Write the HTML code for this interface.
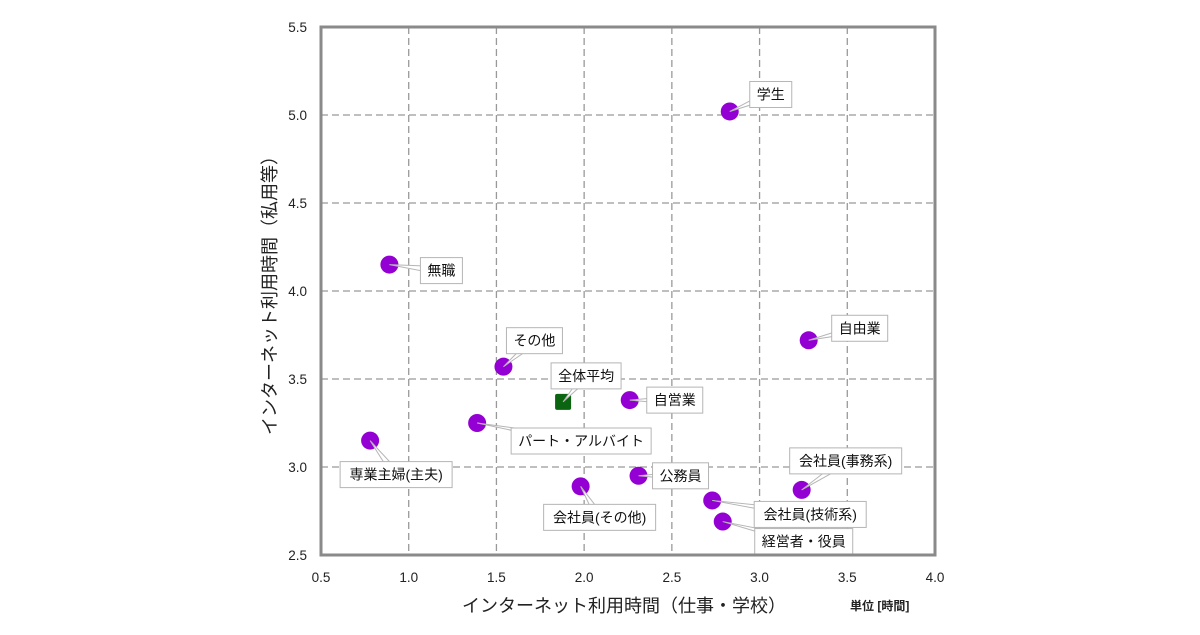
<!DOCTYPE html>
<html><head><meta charset="utf-8">
<style>
body{margin:0;background:#fff;}
svg text{font-family:"Liberation Sans","Noto Sans CJK JP",sans-serif;}
</style></head>
<body>
<svg id="chart" width="1200" height="630" viewBox="0 0 1200 630" xmlns="http://www.w3.org/2000/svg">
<g id="grid"></g>
<g id="marks"></g>
<g id="axes"></g>
<text x="624" y="612" font-size="18" text-anchor="middle" fill="#222">インターネット利用時間（仕事・学校）</text>
<text transform="translate(276,291) rotate(-90)" font-size="18" text-anchor="middle" fill="#222">インターネット利用時間（私用等）</text>
<text x="850" y="610" font-size="12" font-weight="bold" fill="#222">単位 [時間]</text>
</svg>
<script>
const labels=["学生","無職","その他","全体平均","自営業","パート・アルバイト","専業主婦(主夫)","会社員(その他)","公務員","会社員(技術系)","経営者・役員","会社員(事務系)","自由業"];
const xVals=[2.83,0.89,1.54,1.88,2.26,1.39,0.78,1.98,2.31,2.73,2.79,3.24,3.28];
const yVals=[5.02,4.15,3.57,3.37,3.38,3.25,3.15,2.89,2.95,2.81,2.69,2.87,3.72];
const xTicks=[0.5,1.0,1.5,2.0,2.5,3.0,3.5,4.0];
const yTicks=[2.5,3.0,3.5,4.0,4.5,5.0,5.5];
// label box center offsets from point (layout)
const offs=[[41,-17],[52,6],[31,-26],[23,-26],[45,0],[104,18],[26,34],[19,31],[42,-0],[98,14],[81,20],[44,-29],[51,-12]];
const X0=321,X1=935,Y0=555,Y1=27;
const sx=v=>X0+(v-0.5)/(4.0-0.5)*(X1-X0);
const sy=v=>Y0-(v-2.5)/(5.5-2.5)*(Y0-Y1);
const NS="http://www.w3.org/2000/svg";
function mk(t,a,p){const e=document.createElementNS(NS,t);for(const k in a)e.setAttribute(k,a[k]);p.appendChild(e);return e;}
function tw(s){let w=0;for(const c of s)w+=(c==='('||c===')')?7:14;return w;}
const grid=document.getElementById('grid'),axes=document.getElementById('axes'),marks=document.getElementById('marks');
xTicks.forEach(t=>{
 if(t>0.5&&t<4.0){const l=mk('line',{x1:sx(t),x2:sx(t),y1:Y1,y2:Y0,stroke:'#999','stroke-width':1.3,'stroke-dasharray':'7,4'},grid);
 
 }
 const tx=mk('text',{x:sx(t),y:582,'font-size':13.5,'text-anchor':'middle',fill:'#222'},axes);tx.textContent=t.toFixed(1);
 
 
});
yTicks.forEach(t=>{
 if(t>2.5&&t<5.5){const l=mk('line',{x1:X0,x2:X1,y1:sy(t),y2:sy(t),stroke:'#999','stroke-width':1.3,'stroke-dasharray':'7,4'},grid);
 
 }
 const tx=mk('text',{x:307,y:sy(t)+5,'font-size':13.5,'text-anchor':'end',fill:'#222'},axes);tx.textContent=t.toFixed(1);
 
 
});
const fr=mk('rect',{x:X0,y:Y1,width:X1-X0,height:Y0-Y1,fill:'none',stroke:'#8a8a8a','stroke-width':3},axes);


labels.forEach((name,i)=>{
 const px=sx(xVals[i]),py=sy(yVals[i]);
 const g=mk('g',{},marks);
 
 
 const avg=name==="全体平均";
 if(avg){mk('rect',{x:px-8,y:py-8,width:16,height:16,rx:2,fill:'#0a6410'},g);}
 else{mk('circle',{cx:px,cy:py,r:9,fill:'#9400d3'},g);}
 const cx=px+offs[i][0],cy=py+offs[i][1];
 const w=tw(name)+14,h=26;
 const dx=cx-px,dy=cy-py,len=Math.hypot(dx,dy)||1,nx=-dy/len*4,ny=dx/len*4;
 mk('polygon',{points:`${px},${py} ${cx+nx},${cy+ny} ${cx-nx},${cy-ny}`,fill:'#fff',stroke:'#b5b5b5','stroke-width':1},g);
 const b=mk('rect',{x:cx-w/2,y:cy-h/2,width:w,height:h,fill:'#fff',stroke:'#b5b5b5','stroke-width':1},g);
 
 
 const t=mk('text',{x:cx,y:cy+5,'font-size':14,'text-anchor':'middle',fill:'#111'},g);t.textContent=name;
 
 
});
</script>
</body></html>
